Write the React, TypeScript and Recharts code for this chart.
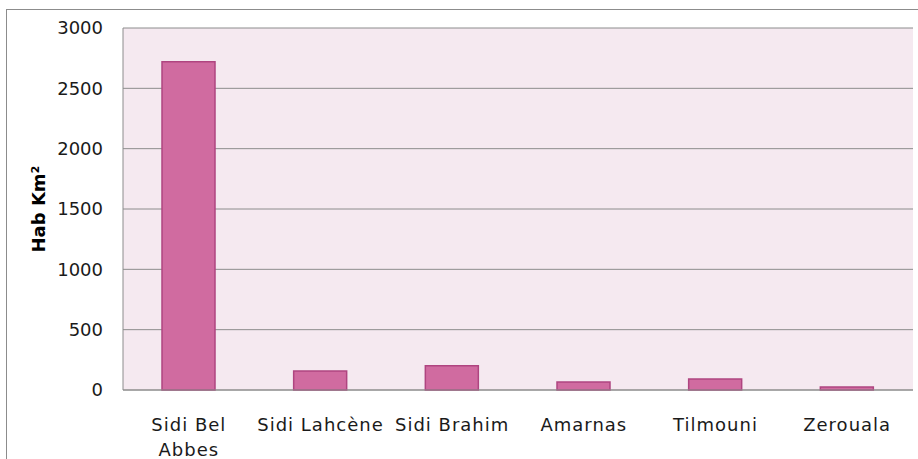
import React from "react";
import { BarChart, Bar, XAxis, YAxis, CartesianGrid, Label } from "recharts";

const communes = ["Sidi Bel Abbes", "Sidi Lahcène", "Sidi Brahim", "Amarnas", "Tilmouni", "Zerouala"];
const density = [2720, 158, 200, 66, 91, 25];
const yTicks = [0, 500, 1000, 1500, 2000, 2500, 3000];

const data = communes.map((name, i) => ({ name, value: density[i] }));

const FONT = "'DejaVu Sans', Verdana, sans-serif";

let ctx: CanvasRenderingContext2D | null = null;
function measure(s: string): number {
  if (!ctx) {
    const c = document.createElement("canvas");
    ctx = c.getContext("2d");
  }
  if (!ctx) return s.length * 9;
  ctx.font = `18px ${FONT}`;
  return ctx.measureText(s).width + s.length * 1;
}

function wrap(label: string, maxW: number): string[] {
  const words = label.split(" ");
  const lines: string[] = [];
  let cur = "";
  for (const w of words) {
    const t = cur ? cur + " " + w : w;
    if (cur && measure(t) > maxW) {
      lines.push(cur);
      cur = w;
    } else cur = t;
  }
  if (cur) lines.push(cur);
  return lines;
}

const XTick = (props: any) => {
  const { x, y, payload } = props;
  const lines = wrap(String(payload.value), 131);
  return (
    <text x={x} y={y + 33} textAnchor="middle" fill="#1a1a1a" fontSize={18} fontFamily={FONT} letterSpacing={1}>
      {lines.map((l, i) => (
        <tspan key={i} x={x} dy={i === 0 ? 0 : 25}>
          {l}
        </tspan>
      ))}
    </text>
  );
};

export default function App() {
  return (
    <div style={{ position: "absolute", left: 0, top: 0, width: 918, height: 459, overflow: "hidden", background: "#fff" }}>
      <div style={{ position: "absolute", left: 6, top: 9, width: 940, height: 480, border: "1px solid #8c8c8c", boxSizing: "border-box" }} />
      <div style={{ position: "absolute", left: 0, top: 0 }}>
        <BarChart width={918} height={459} data={data} margin={{ top: 28, right: 5, bottom: 9, left: 63 }} barSize={53}>
          <CartesianGrid vertical={false} stroke="#8c8c8c" fill="#F5E9F0" />
          <XAxis
            dataKey="name"
            height={60}
            tickLine={false}
            axisLine={{ stroke: "#8c8c8c" }}
            tick={<XTick />}
            interval={0}
          />
          <YAxis
            width={60}
            domain={[0, 3000]}
            ticks={yTicks}
            tickLine={false}
            tickSize={18}
            axisLine={{ stroke: "#8c8c8c" }}
            tick={{ fill: "#1a1a1a", fontSize: 18, fontFamily: FONT }}
          >
            <Label
              value="Hab Km²"
              angle={-90}
              position="insideLeft"
              offset={0}
              style={{ fontWeight: "bold", fontSize: 18, fontFamily: FONT, fill: "#000", textAnchor: "middle" }}
              dx={-24}
            />
          </YAxis>
          <Bar dataKey="value" fill="#D06BA0" stroke="#AF4580" strokeWidth={1.5} isAnimationActive={false} />
        </BarChart>
      </div>
    </div>
  );
}
